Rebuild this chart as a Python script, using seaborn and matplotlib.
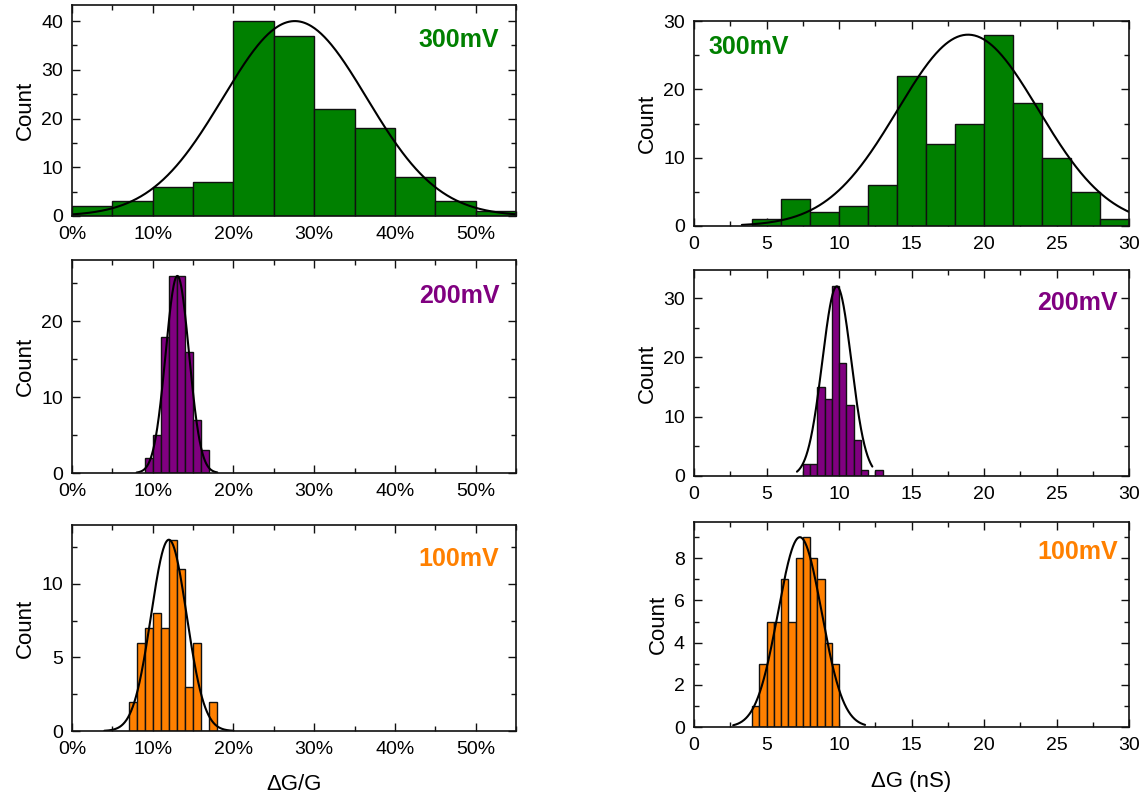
import numpy as np
import pandas as pd
import seaborn as sns
import matplotlib
matplotlib.use("Agg")
import matplotlib.pyplot as plt
from matplotlib.ticker import MultipleLocator, PercentFormatter

sns.set_style("ticks")
plt.rcParams['font.family'] = ['Liberation Sans', 'DejaVu Sans']
plt.rcParams['text.color'] = 'black'
plt.rcParams['axes.labelcolor'] = 'black'
plt.rcParams['xtick.color'] = 'black'
plt.rcParams['ytick.color'] = 'black'

# ---------------- data ----------------
# Left column: relative change dG/G (%), right column: dG (nS)
rel300_edges = [0, 5, 10, 15, 20, 25, 30, 35, 40, 45, 50, 55]
rel300_counts = [2, 3, 6, 7, 40, 37, 22, 18, 8, 3, 1]
rel200_edges = [9, 10, 11, 12, 13, 14, 15, 16, 17]
rel200_counts = [2, 5, 18, 26, 26, 16, 7, 3]
rel100_edges = [7, 8, 9, 10, 11, 12, 13, 14, 15, 16, 17, 18]
rel100_counts = [2, 6, 7, 8, 7, 13, 11, 3, 6, 0, 2]

abs300_edges = [4, 6, 8, 10, 12, 14, 16, 18, 20, 22, 24, 26, 28, 30]
abs300_counts = [1, 4, 2, 3, 6, 22, 12, 15, 28, 18, 10, 5, 1]
abs200_edges = [7.5, 8.0, 8.5, 9.0, 9.5, 10.0, 10.5, 11.0, 11.5, 12.0, 12.5, 13.0]
abs200_counts = [2, 2, 15, 13, 32, 19, 12, 6, 1, 0, 1]
abs100_edges = [4.0, 4.5, 5.0, 5.5, 6.0, 6.5, 7.0, 7.5, 8.0, 8.5, 9.0, 9.5, 10.0]
abs100_counts = [1, 3, 5, 5, 7, 5, 8, 9, 8, 7, 4, 3]

# Gaussian fit parameters: (amplitude, centre, sigma, x_from, x_to)
rel300_fit = (40.0, 27.6, 8.9, 0.0, 55.0)
rel200_fit = (26.0, 13.05, 1.45, 8.0, 18.0)
rel100_fit = (13.0, 12.0, 2.2, 4.0, 20.0)
abs300_fit = (28.0, 18.9, 4.86, 3.3, 30.0)
abs200_fit = (32.0, 9.85, 1.0, 7.1, 12.3)
abs100_fit = (9.0, 7.3, 1.5, 2.7, 11.8)

labels = ["300mV", "200mV", "100mV"]
label_colors = ["#008000", "#800080", "#FF8000"]

# ---------------- figure ----------------
W, H = 1142, 796
fig = plt.figure(figsize=(W / 100, H / 100), dpi=100)


def add_ax(l, r, t, b):
    return fig.add_axes([l / W, 1 - b / H, (r - l) / W, (b - t) / H])


panels = [
    ((72, 516, 5, 216), rel300_edges, rel300_counts, rel300_fit, 43.3, 10, 5, 0, (0.962, 0.834), "right", True),
    ((72, 516, 260, 473), rel200_edges, rel200_counts, rel200_fit, 28.1, 10, 5, 1, (0.962, 0.83), "right", True),
    ((72, 516, 525, 731), rel100_edges, rel100_counts, rel100_fit, 14.0, 5, 2.5, 2, (0.962, 0.834), "right", True),
    ((694, 1129, 21, 226), abs300_edges, abs300_counts, abs300_fit, 30.0, 10, 5, 0, (0.033, 0.873), "left", False),
    ((694, 1129, 270, 476), abs200_edges, abs200_counts, abs200_fit, 34.76, 10, 5, 1, (0.975, 0.84), "right", False),
    ((694, 1129, 522, 727), abs100_edges, abs100_counts, abs100_fit, 9.72, 2, 1, 2, (0.975, 0.853), "right", False),
]

for (box, edges, counts, fit, ytop, ymaj, ymin, ci, lpos, ha, pct) in panels:
    ax = add_ax(*box)
    edges_l = [float(e) for e in edges]
    centers = [(a + b) / 2 for a, b in zip(edges_l[:-1], edges_l[1:])]
    df = pd.DataFrame({"x": centers, "w": [float(c) for c in counts]})
    sns.histplot(data=df, x="x", weights="w", bins=edges_l, stat="count",
                 color=label_colors[ci], edgecolor="#111111", linewidth=1.0,
                 alpha=1.0, ax=ax)
    amp, mu, sig, x0, x1 = fit
    xs = np.linspace(x0, x1, 400)
    fdf = pd.DataFrame({"x": xs, "y": amp * np.exp(-(xs - mu) ** 2 / (2 * sig ** 2))})
    sns.lineplot(data=fdf, x="x", y="y", color="black", linewidth=1.5, ax=ax)

    if pct:
        ax.set_xlim(0, 55)
        ax.xaxis.set_major_locator(MultipleLocator(10))
        ax.xaxis.set_minor_locator(MultipleLocator(5))
        ax.xaxis.set_major_formatter(PercentFormatter(xmax=100, decimals=0))
    else:
        ax.set_xlim(0, 30)
        ax.xaxis.set_major_locator(MultipleLocator(5))
        ax.xaxis.set_minor_locator(MultipleLocator(2.5))
    ax.set_ylim(0, ytop)
    ax.yaxis.set_major_locator(MultipleLocator(ymaj))
    ax.yaxis.set_minor_locator(MultipleLocator(ymin))

    ax.tick_params(which="both", direction="in", top=True, right=True,
                   color="#111111", width=1.0)
    ax.tick_params(which="major", length=6, labelsize=14)
    ax.tick_params(which="minor", length=3.5)
    ax.tick_params(axis="x", which="major", pad=7.5)
    ax.tick_params(axis="y", which="major", pad=6.5)
    for s in ax.spines.values():
        s.set_linewidth(1.2)
        s.set_color("#111111")
    ax.set_ylabel("Count", fontsize=16, labelpad=4)
    ax.set_xlabel("")
    ax.text(lpos[0], lpos[1], labels[ci], transform=ax.transAxes, ha=ha, va="center",
            fontsize=18, fontweight="bold", color=label_colors[ci])

    if box[3] == 731:
        ax.set_xlabel("\u0394G/G", fontsize=16, labelpad=11)
    if box[3] == 727:
        ax.set_xlabel("\u0394G (nS)", fontsize=16, labelpad=12)

fig.savefig("out.png", dpi=100)
